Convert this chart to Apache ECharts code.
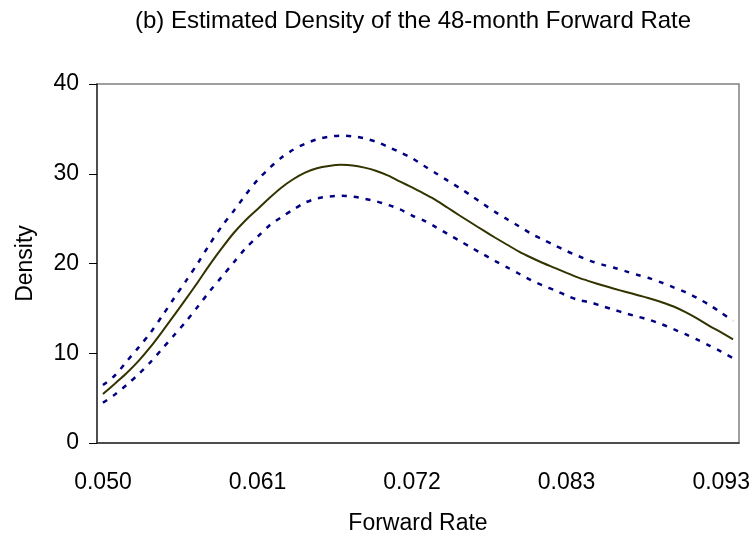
<!DOCTYPE html>
<html lang="en">

<head>
  <meta charset="UTF-8">
  <title>Estimated Density of the 48-month Forward Rate</title>
  <script src="https://cdn.jsdelivr.net/npm/echarts@6.0.0/dist/echarts.min.js"></script>
  <style>
    html,
    body {
      margin: 0;
      padding: 0;
      background-color: #fff;
    }

    #chart {
      width: 753px;
      height: 542px;
    }
  </style>
</head>

<body>
  <div id="chart"></div>
  <script>
    // forward rate grid (x categories)
    const rates = [
      0.050000, 0.050835, 0.051670, 0.052505, 0.053340, 0.054175, 0.055010, 0.055845, 0.056680, 0.057515,
      0.058350, 0.059185, 0.060020, 0.060855, 0.061690, 0.062525, 0.063360, 0.064195, 0.065030, 0.065865,
      0.066700, 0.067535, 0.068370, 0.069205, 0.070040, 0.070875, 0.071710, 0.072545, 0.073380, 0.074215,
      0.075050, 0.075885, 0.076720, 0.077555, 0.078390, 0.079225, 0.080060, 0.080895, 0.081730, 0.082565,
      0.083400, 0.084235, 0.085070, 0.085905, 0.086740, 0.087575, 0.088410, 0.089245, 0.090080, 0.090915,
      0.091750, 0.092585, 0.093420, 0.094255
    ];

    // estimated density
    const density = [
      5.45, 6.61, 7.80, 9.15, 10.70, 12.44, 14.25, 16.08, 17.96, 19.90,
      21.71, 23.40, 24.82, 26.05, 27.30, 28.45, 29.39, 30.13, 30.61, 30.87,
      30.99, 30.93, 30.68, 30.31, 29.79, 29.12, 28.48, 27.79, 27.07, 26.21,
      25.35, 24.51, 23.68, 22.87, 22.09, 21.33, 20.67, 20.06, 19.51, 18.96,
      18.42, 17.98, 17.57, 17.19, 16.83, 16.47, 16.10, 15.69, 15.21, 14.58,
      13.85, 13.06, 12.32, 11.55
    ];

    // upper band
    const upper = [
      6.45, 7.52, 9.10, 10.65, 12.29, 14.19, 16.17, 18.09, 20.08, 22.20,
      24.15, 25.86, 27.65, 29.30, 30.62, 31.79, 32.67, 33.34, 33.83, 34.13,
      34.25, 34.17, 33.94, 33.56, 32.99, 32.39, 31.74, 30.89, 30.06, 29.23,
      28.41, 27.54, 26.62, 25.73, 24.93, 24.14, 23.34, 22.68, 22.03, 21.39,
      20.82, 20.29, 19.88, 19.53, 19.12, 18.72, 18.34, 17.87, 17.34, 16.80,
      16.14, 15.39, 14.51, 13.60
    ];

    // lower band
    const lower = [
      4.50, 5.39, 6.49, 7.67, 9.01, 10.52, 12.03, 13.57, 15.23, 16.94,
      18.52, 20.12, 21.69, 22.98, 24.24, 25.16, 26.00, 26.78, 27.24, 27.46,
      27.55, 27.46, 27.22, 26.92, 26.52, 26.02, 25.34, 24.78, 24.05, 23.29,
      22.53, 21.76, 21.01, 20.27, 19.57, 18.86, 18.14, 17.55, 17.02, 16.43,
      15.93, 15.67, 15.25, 14.84, 14.43, 14.07, 13.70, 13.23, 12.68, 12.12,
      11.52, 10.86, 10.18, 9.45
    ];

    const font = "'Liberation Sans', Arial, sans-serif";
    const myChart = echarts.init(document.getElementById('chart'));

    const bandStyle = {
      color: '#000080',
      width: 2.5,
      type: [5, 7]
    };

    const option = {
      animation: false,
      graphic: [{
        type: 'text',
        x: 413,
        y: 9,
        style: {
          text: '(b) Estimated Density of the 48-month Forward Rate',
          textAlign: 'center',
          fontFamily: font,
          fontSize: 24,
          fill: '#000'
        }
      }],
      grid: {
        left: 97,
        right: 14,
        top: 84,
        bottom: 99,
        show: true,
        borderColor: '#808080',
        borderWidth: 1.5
      },
      xAxis: {
        type: 'category',
        data: rates,
        boundaryGap: true,
        name: 'Forward Rate',
        nameLocation: 'middle',
        nameGap: 69,
        nameTextStyle: { fontFamily: font, fontSize: 23, color: '#000' },
        axisLine: { lineStyle: { color: '#333', width: 1.5 } },
        axisTick: { interval: 12, length: 8, lineStyle: { color: '#000' } },
        axisLabel: {
          interval: 12,
          margin: 28,
          fontFamily: font,
          fontSize: 23,
          color: '#000',
          formatter: v => Number(v).toFixed(3)
        },
        splitLine: { show: false }
      },
      yAxis: {
        type: 'value',
        min: 0,
        max: 40,
        interval: 10,
        name: 'Density',
        nameLocation: 'middle',
        nameRotate: 90,
        nameGap: 60,
        nameTextStyle: { fontFamily: font, fontSize: 23, color: '#000' },
        axisLine: { show: true, lineStyle: { color: '#333', width: 1.5 } },
        axisTick: { show: true, length: 8, lineStyle: { color: '#000' } },
        axisLabel: { margin: 18, fontFamily: font, fontSize: 23, color: '#000' },
        splitLine: { show: false }
      },
      series: [{
        name: 'upper',
        type: 'line',
        data: upper,
        symbol: 'none',
        smooth: 0.3,
        lineStyle: bandStyle
      }, {
        name: 'lower',
        type: 'line',
        data: lower,
        symbol: 'none',
        smooth: 0.3,
        lineStyle: bandStyle
      }, {
        name: 'density',
        type: 'line',
        data: density,
        symbol: 'none',
        smooth: 0.3,
        lineStyle: { color: '#333300', width: 2 }
      }]
    };

    myChart.setOption(option);
  </script>
</body>

</html>
